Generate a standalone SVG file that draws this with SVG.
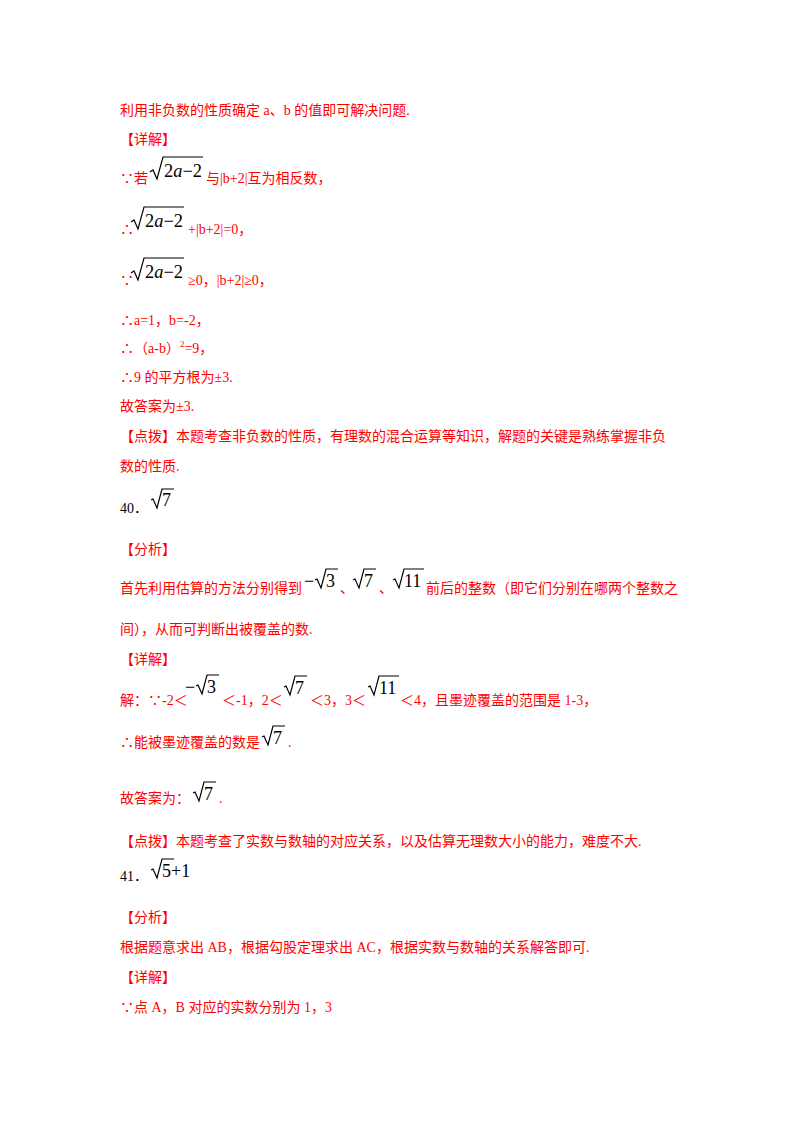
<svg xmlns="http://www.w3.org/2000/svg" width="800" height="1132" viewBox="0 0 800 1132">
<style>
.t{font-family:"Liberation Serif","Noto Sans CJK SC",serif;font-size:14px;fill:#f00}
.m{font-family:"Liberation Serif",serif;font-size:18px;fill:#000}
.i{font-style:italic}
.r{fill:none;stroke:#000;stroke-width:1.2}
</style>
<rect width="800" height="1132" fill="#fff"/>
<text class="t" x="120" y="115">利用非负数的性质确定 a、b 的值即可解决问题.</text>
<text class="t" x="120" y="144">【详解】</text>
<text class="t" x="120" y="183">∵若</text>
<path class="r" d="M150,172 l3,-2 l4,9 l6,-22 h40"/>
<text class="m" x="164" y="177" textLength="38" lengthAdjust="spacingAndGlyphs"><tspan>2</tspan><tspan class="i">a</tspan>−2</text>
<text class="t" x="206" y="183">与|b+2|互为相反数，</text>
<text class="t" x="120" y="234">∴</text>
<path class="r" d="M131,222 l3,-2 l4,9 l6,-22 h40"/>
<text class="m" x="145" y="227" textLength="38" lengthAdjust="spacingAndGlyphs"><tspan>2</tspan><tspan class="i">a</tspan>−2</text>
<text class="t" x="188" y="234">+|b+2|=0，</text>
<text class="t" x="120" y="285">∵</text>
<path class="r" d="M131,273 l3,-2 l4,9 l6,-22 h40"/>
<text class="m" x="145" y="278" textLength="38" lengthAdjust="spacingAndGlyphs"><tspan>2</tspan><tspan class="i">a</tspan>−2</text>
<text class="t" x="188" y="285">≥0，|b+2|≥0，</text>
<text class="t" x="120" y="325">∴a=1，b=-2，</text>
<text class="t" x="120" y="353">∴（a-b）<tspan font-size="9" dy="-6">2</tspan><tspan dy="6">=9，</tspan></text>
<text class="t" x="120" y="382">∴9 的平方根为±3.</text>
<text class="t" x="120" y="411">故答案为±3.</text>
<text class="t" x="120" y="441">【点拨】本题考查非负数的性质，有理数的混合运算等知识，解题的关键是熟练掌握非负</text>
<text class="t" x="120" y="471">数的性质.</text>
<text class="t" x="120" y="513" style="fill:#000">40．</text>
<path class="r" d="M151,500 l2,-1 l4,9 l5,-19 h12"/>
<text class="m" x="162" y="506">7</text>
<text class="t" x="120" y="554">【分析】</text>
<text class="t" x="120" y="593">首先利用估算的方法分别得到</text>
<text class="m" x="304" y="587">−</text>
<path class="r" d="M315,580 l2,-1 l4,9 l5,-19 h12"/>
<text class="m" x="326" y="587">3</text>
<text class="t" x="340" y="593">、</text>
<path class="r" d="M353,580 l2,-1 l4,9 l5,-19 h12"/>
<text class="m" x="364" y="587">7</text>
<text class="t" x="379" y="593">、</text>
<path class="r" d="M393,580 l2,-1 l4,9 l5,-19 h20"/>
<text class="m" x="404" y="587">11</text>
<text class="t" x="426" y="593">前后的整数（即它们分别在哪两个整数之</text>
<text class="t" x="120" y="634">间），从而可判断出被覆盖的数.</text>
<text class="t" x="120" y="664">【详解】</text>
<text class="t" x="120" y="705">解：∵-2＜</text>
<text class="m" x="185" y="693">−</text>
<path class="r" d="M196,686 l2,-1 l4,9 l5,-19 h12"/>
<text class="m" x="207" y="693">3</text>
<text class="t" x="222" y="705">＜-1，2＜</text>
<path class="r" d="M284,687 l2,-1 l4,9 l5,-19 h12"/>
<text class="m" x="295" y="694">7</text>
<text class="t" x="310" y="705">＜3，3＜</text>
<path class="r" d="M368,687 l2,-1 l4,9 l5,-19 h20"/>
<text class="m" x="379" y="694">11</text>
<text class="t" x="400" y="705">＜4，且墨迹覆盖的范围是 1-3，</text>
<text class="t" x="120" y="747">∴能被墨迹覆盖的数是</text>
<path class="r" d="M262,737 l2,-1 l4,9 l5,-19 h12"/>
<text class="m" x="273" y="744">7</text>
<text class="t" x="288" y="747">.</text>
<text class="t" x="120" y="803">故答案为：</text>
<path class="r" d="M193,793 l2,-1 l4,9 l5,-19 h12"/>
<text class="m" x="204" y="800">7</text>
<text class="t" x="219" y="803">.</text>
<text class="t" x="120" y="846">【点拨】本题考查了实数与数轴的对应关系，以及估算无理数大小的能力，难度不大.</text>
<text class="t" x="120" y="881" style="fill:#000">41．</text>
<path class="r" d="M151,870 l2,-1 l4,9 l5,-19 h12"/>
<text class="m" x="162" y="877">5+1</text>
<text class="t" x="120" y="922">【分析】</text>
<text class="t" x="120" y="952">根据题意求出 AB，根据勾股定理求出 AC，根据实数与数轴的关系解答即可.</text>
<text class="t" x="120" y="982">【详解】</text>
<text class="t" x="120" y="1012">∵点 A，B 对应的实数分别为 1，3</text>
</svg>
